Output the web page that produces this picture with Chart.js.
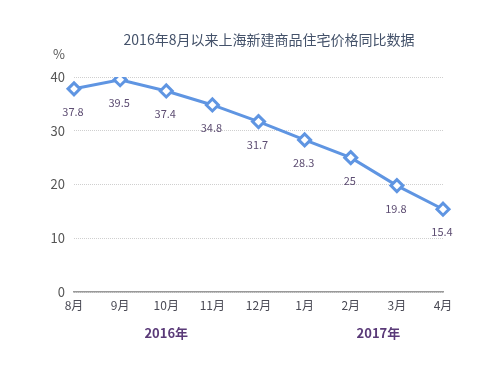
<!DOCTYPE html>
<html>
<head>
<meta charset="utf-8">
<script src="https://cdn.jsdelivr.net/npm/chart.js@4/dist/chart.umd.min.js"></script>
<style>
  html, body { margin: 0; padding: 0; background: #fff; }
  #wrap { width: 500px; height: 375px; }
</style>
</head>
<body>
<div id="wrap"><canvas id="priceChart" width="500" height="375"></canvas></div>
<script>
const months = ['8月', '9月', '10月', '11月', '12月', '1月', '2月', '3月', '4月'];
const yoyValues = [37.8, 39.5, 37.4, 34.8, 31.7, 28.3, 25, 19.8, 15.4];
const yTicks = [0, 10, 20, 30, 40];
const years = ['2016年', '2017年'];
const yearCenterIndex = [2, 6.6];

const titleText = '2016年8月以来上海新建商品住宅价格同比数据';
const cjkFont = '"Noto Sans CJK SC", "Noto Sans", sans-serif';

// labels under each point, title, % unit, year captions
const extraText = {
  id: 'extraText',
  afterDatasetsDraw(chart) {
    const c = chart.ctx;
    const meta = chart.getDatasetMeta(0);
    c.save();
    c.textAlign = 'center';
    c.textBaseline = 'middle';
    c.fillStyle = '#5d4d72';
    c.font = '11px ' + cjkFont;
    meta.data.forEach((pt, i) => {
      c.fillText(String(yoyValues[i]), pt.x - 1, pt.y + 23);
    });

    c.fillStyle = '#44526a';
    c.font = '14px ' + cjkFont;
    c.fillText(titleText, 269, 40);

    c.fillStyle = '#555';
    c.font = '13px ' + cjkFont;
    c.fillText('%', 59, 54);

    const xs = chart.scales.x;
    c.fillStyle = '#5a3a78';
    c.font = 'bold 13px ' + cjkFont;
    years.forEach((y, i) => {
      c.fillText(y, xs.getPixelForValue(yearCenterIndex[i]), 333);
    });
    c.restore();
  }
};

const ctx = document.getElementById('priceChart').getContext('2d');
const priceChart = new Chart(ctx, {
  type: 'line',
  data: {
    labels: months,
    datasets: [{
      data: yoyValues,
      borderColor: '#5f95e2',
      borderWidth: 3,
      pointStyle: 'rectRot',
      pointRadius: 6,
      pointBorderWidth: 3,
      pointBackgroundColor: '#fff',
      pointBorderColor: '#5f95e2',
      tension: 0
    }]
  },
  options: {
    responsive: false,
    animation: false,
    layout: { padding: { left: 0, right: 57, top: 77, bottom: 53 } },
    plugins: {
      legend: { display: false },
      tooltip: { enabled: false }
    },
    scales: {
      x: {
        offset: false,
        afterFit(scale) { scale.height = 30; },
        grid: { display: false, drawTicks: false },
        border: { display: true, color: '#999', width: 1.5 },
        ticks: {
          padding: 6,
          color: '#4a4a55',
          maxRotation: 0,
          font: { size: 12, family: cjkFont }
        }
      },
      y: {
        min: 0,
        max: 40,
        afterFit(scale) { scale.width = 74; },
        afterBuildTicks(scale) { scale.ticks = yTicks.map(v => ({ value: v })); },
        grid: {
          color: '#cfcfcf',
          lineWidth: 1,
          drawTicks: false
        },
        border: { display: false, dash: [1, 1] },
        ticks: {
          padding: 9,
          color: '#555',
          font: { size: 13, family: cjkFont }
        }
      }
    }
  },
  plugins: [extraText]
});
</script>
</body>
</html>
